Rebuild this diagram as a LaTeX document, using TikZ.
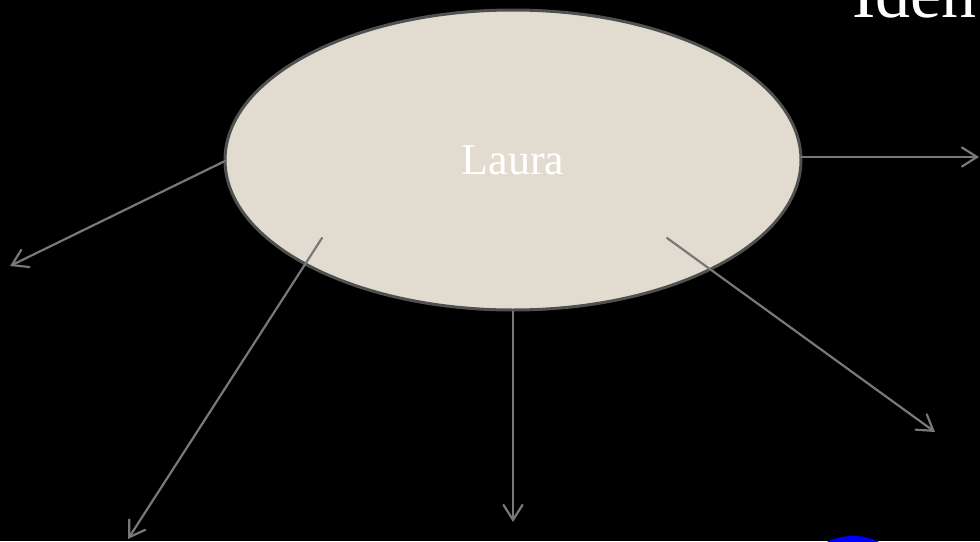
\documentclass[tikz,border=0pt]{standalone}
\usepackage{fontspec}
\setmainfont{Liberation Serif}
\usetikzlibrary{shapes.geometric,arrows.meta}
\definecolor{ellfill}{RGB}{226,219,207}
\definecolor{ellline}{RGB}{80,80,80}
\definecolor{arrgray}{RGB}{120,120,120}
\tikzset{
  conn/.style={draw=arrgray, line width=2.2pt, line cap=round,
    -{Straight Barb[length=15pt,width=19pt,line cap=round]}},
}
\begin{document}
\begin{tikzpicture}[x=1pt,y=-1pt]
\useasboundingbox (0,0) rectangle (980,541);
\clip (0,0) rectangle (980,541);
\fill[black] (0,0) rectangle (980,541);
\node[ellipse, fill=ellfill, draw=ellline, line width=3pt, minimum width=576pt, minimum height=300pt, inner sep=0pt,
  text=white, font=\fontsize{44}{50}\selectfont] (laura) at (513,160) {Laura};
\node[anchor=base west, inner sep=0pt, text=white, font=\fontsize{70}{80}\selectfont] (iden) at (852,17) {Iden};
\node[circle, fill=blue, minimum size=122pt, inner sep=0pt] (blue) at (853,597) {};
\coordinate (s1) at (225,161);
\coordinate (s2) at (322,238);
\coordinate (s4) at (667,238);
\coordinate (s5) at (801,157);
\coordinate (e1) at (10,266);
\coordinate (e2) at (128,539);
\coordinate (e3) at (513,522);
\coordinate (e4) at (935,432);
\coordinate (e5) at (979,157);
\draw[conn] (s1) -- (e1);
\draw[conn] (s2) -- (e2);
\draw[conn] (laura.south) -- (e3);
\draw[conn] (s4) -- (e4);
\draw[conn] (s5) -- (e5);
\end{tikzpicture}
\end{document}
